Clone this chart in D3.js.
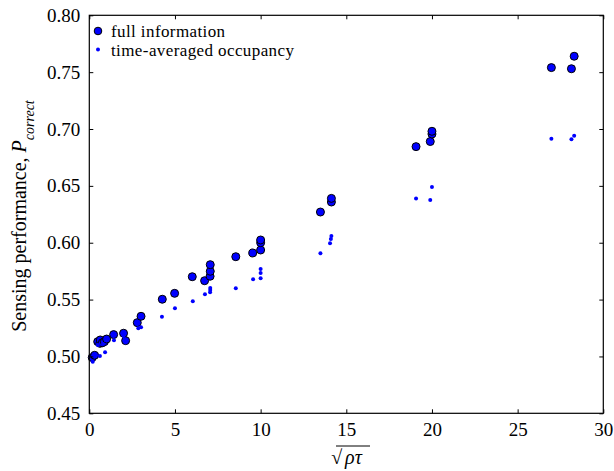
<!DOCTYPE html>
<html><head><meta charset="utf-8">
<script src="https://cdn.jsdelivr.net/npm/d3@7"></script>
<style>body{margin:0;background:#fff}svg{display:block}text{font-family:"Liberation Serif","Times New Roman",serif}</style>
</head><body>
<svg id="c" width="614" height="471"></svg>
<script>
const fullX=[0.17,0.31,0.49,0.62,0.64,0.76,0.88,1.01,1.42,2.0,2.12,2.8,3.02,4.26,4.98,6.01,6.73,7.05,7.06,7.06,8.55,9.54,10.0,10.0,10.0,13.49,14.13,14.13,19.07,19.9,20.0,20.0,26.97,28.14,28.3];
const fullY=[0.499,0.501,0.513,0.5115,0.5145,0.512,0.513,0.5153,0.5192,0.5204,0.5139,0.5297,0.5353,0.5503,0.5555,0.5701,0.5666,0.5705,0.5749,0.5807,0.5877,0.591,0.5936,0.600,0.6024,0.627,0.6358,0.639,0.6845,0.689,0.6956,0.698,0.754,0.753,0.764];
const avgX=[0.2,0.62,0.92,0.5,0.8,1.44,2.12,2.0,2.86,3.02,4.24,5.0,6.04,6.75,7.05,7.06,7.06,8.55,9.56,10.0,10.0,10.0,13.49,14.05,14.1,14.13,19.07,19.9,20.0,26.97,28.14,28.3];
const avgY=[0.4954,0.5004,0.5036,0.51,0.511,0.5142,0.5124,0.518,0.5248,0.5257,0.535,0.5424,0.5485,0.5547,0.5564,0.5584,0.5602,0.56,0.5678,0.5687,0.5734,0.5769,0.5907,0.5995,0.6033,0.606,0.639,0.6376,0.649,0.6915,0.691,0.694];
const xTicks=[0,5,10,15,20,25,30];
const yTicks=[0.45,0.50,0.55,0.60,0.65,0.70,0.75,0.80];
const seriesNames=["full information","time-averaged occupancy"];

const svg=d3.select("#c");
const L=89.3,R=603.3,T=15.3,B=413.3;
const x=d3.scaleLinear().domain([0,30]).range([L,R]);
const y=d3.scaleLinear().domain([0.45,0.80]).range([B,T]);

// points
svg.append("g").selectAll("circle").data(fullX.map((v,i)=>[v,fullY[i]])).join("circle")
  .attr("cx",d=>x(d[0])).attr("cy",d=>y(d[1])).attr("r",4)
  .attr("fill","#0000ff").attr("stroke","#000").attr("stroke-width",1);
svg.append("g").selectAll("circle").data(avgX.map((v,i)=>[v,avgY[i]])).join("circle")
  .attr("cx",d=>x(d[0])).attr("cy",d=>y(d[1])).attr("r",2)
  .attr("fill","#0000ff");

// frame
svg.append("rect").attr("x",L).attr("y",T).attr("width",R-L).attr("height",B-T)
  .attr("fill","none").attr("stroke","#000").attr("stroke-width",1.2);

const fs=19;
// axes with inward ticks
const gb=svg.append("g").attr("transform",`translate(0,${B})`)
  .call(d3.axisBottom(x).tickValues(xTicks).tickSize(-4).tickPadding(9).tickFormat(d3.format("d")));
const gt=svg.append("g").attr("transform",`translate(0,${T})`)
  .call(d3.axisTop(x).tickValues(xTicks).tickSize(-4).tickFormat(""));
const gl=svg.append("g").attr("transform",`translate(${L},0)`)
  .call(d3.axisLeft(y).tickValues(yTicks).tickSize(-4).tickPadding(9).tickFormat(d3.format(".2f")));
const gr=svg.append("g").attr("transform",`translate(${R},0)`)
  .call(d3.axisRight(y).tickValues(yTicks).tickSize(-4).tickFormat(""));
[gb,gt,gl,gr].forEach(g=>{g.select(".domain").remove();g.selectAll("line").attr("stroke","#000");
  g.selectAll("text").attr("fill","#000").style("font-size",fs+"px").style("font-family",'"Liberation Serif",serif');});

// legend
const lg=svg.append("g");
lg.append("circle").attr("cx",98).attr("cy",31).attr("r",3.8).attr("fill","#0000ff").attr("stroke","#000");
lg.append("circle").attr("cx",98).attr("cy",49.5).attr("r",2).attr("fill","#0000ff");
lg.append("text").attr("x",111).attr("y",36.5).style("font-size","17px").style("letter-spacing","0.4px").text(seriesNames[0]);
lg.append("text").attr("x",111).attr("y",55.5).style("font-size","17px").style("letter-spacing","0.4px").text(seriesNames[1]);

// x label
const xl=svg.append("text").attr("x",346.5).attr("y",464).attr("text-anchor","middle").style("font-size","20px");
xl.append("tspan").text("\u221A");
xl.append("tspan").attr("font-style","italic").attr("dx",3).text("\u03C1\u03C4");
svg.append("line").attr("x1",336).attr("x2",370).attr("y1",446).attr("y2",446).attr("stroke","#000").attr("stroke-width",1);

// y label
const yl=svg.append("text").attr("transform","translate(26,216) rotate(-90)").attr("text-anchor","middle").style("font-size","20px");
yl.append("tspan").text("Sensing performance, ");
yl.append("tspan").attr("font-style","italic").text("P");
yl.append("tspan").attr("font-style","italic").attr("baseline-shift","sub").style("font-size","14px").text("correct");
</script>
</body></html>
